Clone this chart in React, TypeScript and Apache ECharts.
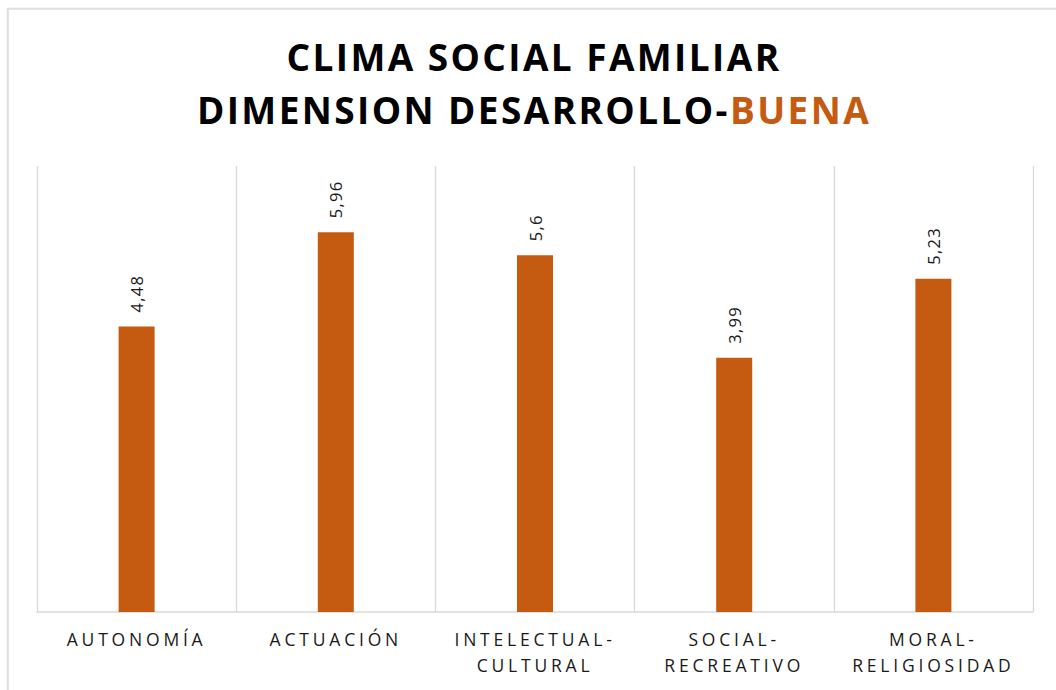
import React, { useEffect, useRef } from "react";
import * as echarts from "echarts";

const categories = ["AUTONOMÍA", "ACTUACIÓN", "INTELECTUAL-\nCULTURAL", "SOCIAL-\nRECREATIVO", "MORAL-\nRELIGIOSIDAD"];
const values = [4.48, 5.96, 5.6, 3.99, 5.23];
const titleLine1 = "CLIMA SOCIAL FAMILIAR";
const titleLine2a = "DIMENSION DESARROLLO-";
const titleLine2b = "BUENA";

const FONT = '"Open Sans", "DejaVu Sans", sans-serif';
const TITLE_SIZE = 37;
const TITLE_SPACING = 2.4;
const XLABEL_SPACING = 3.8;
const DLABEL_SPACING = 1.3;
const ORANGE = "#C55A11";
const GRID_COLOR = "#d9d9d9";

function measure(text: string, font: string, spacing: number) {
  const c = document.createElement("canvas");
  const ctx = c.getContext("2d")!;
  ctx.font = font;
  return ctx.measureText(text).width + spacing * text.length;
}

export default function App() {
  const ref = useRef<HTMLDivElement>(null);
  useEffect(() => {
    document.body.style.margin = "0";
    const el = ref.current!;
    const chart = echarts.init(el, null, { renderer: "svg" });
    const center = 534;
    const tFont = `700 ${TITLE_SIZE}px "Open Sans"`;
    const w1 = measure(titleLine2a, tFont, TITLE_SPACING);
    const w2 = measure(titleLine2b, tFont, TITLE_SPACING);
    const splitX = center - (w1 + w2) / 2 + w1;

    const titleStyle = {
      fontFamily: FONT,
      fontWeight: "bold",
      fontSize: TITLE_SIZE,
      fill: "#000",
    };

    chart.setOption({
      animation: false,
      grid: { left: 37, right: 23, top: 166, bottom: 78, containLabel: false },
      graphic: [
        {
          type: "rect",
          silent: true,
          shape: { x: 7.8, y: 8.7, width: 2000, height: 2000 },
          style: { fill: "none", stroke: "#dedede", lineWidth: 2 },
        },
        {
          type: "text",
          x: center,
          y: 56,
          style: { ...titleStyle, text: titleLine1, textAlign: "center", textVerticalAlign: "middle" },
        },
        {
          type: "text",
          x: splitX,
          y: 109,
          style: { ...titleStyle, text: titleLine2a, textAlign: "right", textVerticalAlign: "middle" },
        },
        {
          type: "text",
          x: splitX,
          y: 109,
          style: { ...titleStyle, fill: ORANGE, text: titleLine2b, textAlign: "left", textVerticalAlign: "middle" },
        },
      ],
      xAxis: {
        type: "category",
        data: categories,
        axisLine: { show: true, lineStyle: { color: GRID_COLOR, width: 1.5 } },
        axisTick: { show: false },
        splitLine: { show: true, lineStyle: { color: GRID_COLOR, width: 1.3 } },
        axisLabel: {
          interval: 0,
          fontFamily: FONT,
          fontSize: 17.5,
          color: "#1a1a1a",
          lineHeight: 26,
          margin: 14,
        },
      },
      yAxis: { type: "value", min: 0, max: 7, show: false },
      series: [
        {
          type: "bar",
          data: values,
          barWidth: 36,
          itemStyle: { color: ORANGE },
          label: {
            show: true,
            position: "top",
            rotate: 90,
            align: "left",
            verticalAlign: "middle",
            distance: 14,
            fontFamily: FONT,
            fontSize: 16.5,
            color: "#1a1a1a",
            formatter: (p: any) => String(p.value).replace(".", ","),
          },
        },
      ],
    });

    const titleSet = new Set([titleLine1, titleLine2a, titleLine2b]);
    const xSet = new Set<string>();
    categories.forEach((c) => c.split("\n").forEach((s) => xSet.add(s)));
    const dSet = new Set(values.map((v) => String(v).replace(".", ",")));
    const applySpacing = () => {
      el.querySelectorAll("text").forEach((t) => {
        const s = (t.textContent || "").trim();
        if (titleSet.has(s)) t.setAttribute("letter-spacing", String(TITLE_SPACING));
        else if (xSet.has(s)) t.setAttribute("letter-spacing", String(XLABEL_SPACING));
        else if (dSet.has(s)) t.setAttribute("letter-spacing", String(DLABEL_SPACING));
      });
    };
    applySpacing();
    chart.on("finished", applySpacing);

    return () => {
      chart.dispose();
    };
  }, []);
  return <div ref={ref} style={{ width: 1056, height: 690 }} />;
}
